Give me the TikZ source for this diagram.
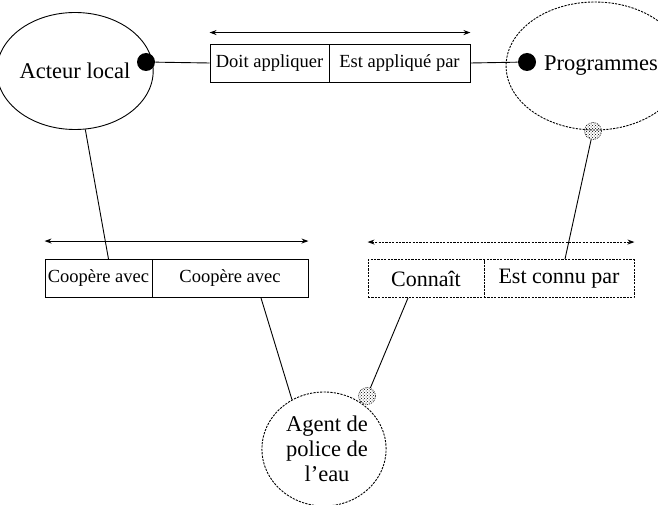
\documentclass[tikz,border=0pt]{standalone}
\usepackage{fontspec}
\setmainfont{Liberation Serif}
\usetikzlibrary{shapes.geometric,arrows.meta,patterns}
\begin{document}
\begin{tikzpicture}[x=1pt,y=-1pt,line width=0.9pt,
  ent/.style={ellipse,draw,inner sep=0pt,font=\fontsize{22.5}{25}\selectfont},
  dashline/.style={dash pattern=on 2.2pt off 1.2pt},
  cell/.style={rectangle,draw,inner sep=0pt,minimum height=38pt,font=\fontsize{18.5}{21}\selectfont},
  bigcell/.style={cell,font=\fontsize{22}{25}\selectfont},
  bigdot/.style={circle,fill=black,inner sep=0pt,minimum size=18pt},
  texdot/.style={circle,draw,line width=0.5pt,dash pattern=on 1pt off 1pt,pattern=crosshatch dots,inner sep=0pt,minimum size=17pt},
  dbl/.style={{Stealth[length=7pt,width=5pt]}-{Stealth[length=7pt,width=5pt]}}]
\useasboundingbox (0,0) rectangle (658,505);
% entities
\node[ent,minimum width=142pt,minimum height=117pt] (acteur) at (75,71) {Acteur local};
\node[ent,dashline,minimum width=130pt,minimum height=128pt] (prog) at (595,66) {\hspace*{12pt}Programmes};
\node[ent,dashline,minimum width=124pt,minimum height=114pt,align=center] (agent) at (324,449) {\hspace*{6pt}Agent de\\\hspace*{6pt}police de\\\hspace*{6pt}l’eau};
% top relation
\node[cell,minimum width=119pt] (doit) at (269.5,63) {Doit appliquer};
\node[cell,minimum width=141pt] (est) at (399.5,63) {Est appliqué par};
% left relation
\node[cell,minimum width=107pt] (coop1) at (98.5,278.5) {Coopère avec};
\node[cell,minimum width=156pt] (coop2) at (230,278.5) {Coopère avec};
% right relation
\node[bigcell,dashline,minimum width=116pt] (conn) at (426,278.5) {Connaît};
\node[bigcell,dashline,minimum width=150pt] (connu) at (559,278.5) {Est connu par};
% dots
\node[bigdot] (dA) at (146,62) {};
\node[bigdot] (dP) at (527,62) {};
\node[texdot] (dPB) at (593,131) {};
\node[texdot] (dAg) at (367,396) {};
% direction arrows
\draw[dbl] ([yshift=11pt]doit.north west) -- ([yshift=11pt]est.north east);
\draw[dbl] ([yshift=18pt]coop1.north west) -- ([yshift=18pt]coop2.north east);
\draw[dbl,dashline] ([yshift=17pt]conn.north west) -- ([yshift=17pt]connu.north east);
% connectors
\draw (dA) -- (doit.west);
\draw (est.east) -- (dP);
\draw (acteur.280) -- ([xshift=10pt]coop1.north);
\draw ([xshift=31pt]coop2.south) -- (agent.123);
\draw ([xshift=-18pt]conn.south) -- (dAg);
\draw (dPB) -- ([xshift=6pt]connu.north);
\end{tikzpicture}
\end{document}
